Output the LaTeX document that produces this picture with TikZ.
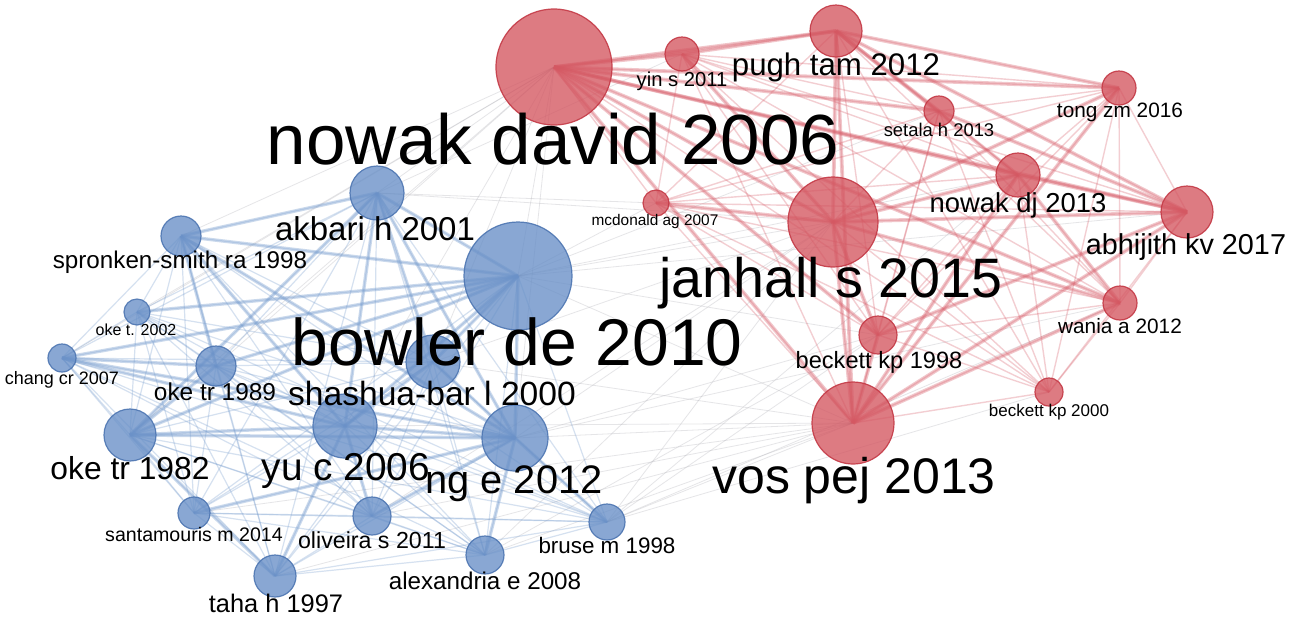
\documentclass[tikz,border=0pt]{standalone}
\usepackage{fontspec}
\setmainfont{Liberation Sans}
\usetikzlibrary{backgrounds}
\definecolor{bfill}{RGB}{104,143,199}
\definecolor{bdraw}{RGB}{78,118,178}
\definecolor{rfill}{RGB}{212,86,96}
\definecolor{rdraw}{RGB}{196,58,70}
\definecolor{bedge}{RGB}{118,156,206}
\definecolor{redge}{RGB}{216,96,108}
\definecolor{gedge}{RGB}{165,165,172}
\begin{document}
\begin{tikzpicture}[x=0.5pt,y=-0.5pt,
  bnode/.style={circle,inner sep=0,minimum size=#1*1pt,fill=bfill,fill opacity=0.78,draw=bdraw,draw opacity=0.9,line width=0.6pt},
  rnode/.style={circle,inner sep=0,minimum size=#1*1pt,fill=rfill,fill opacity=0.78,draw=rdraw,draw opacity=0.9,line width=0.6pt},
  lbl/.style={inner sep=0,anchor=base,text=black,font=\fontsize{#1pt}{#1pt}\selectfont},
  bthin/.style={draw=bedge,draw opacity=0.3,line width=0.6pt},
  bthick/.style={draw=bedge,draw opacity=0.38,line width=1.7pt},
  rthin/.style={draw=redge,draw opacity=0.3,line width=0.7pt},
  rthick/.style={draw=redge,draw opacity=0.35,line width=1.9pt},
  gthin/.style={draw=gedge,draw opacity=0.28,line width=0.4pt}]
\useasboundingbox (0,0) rectangle (1301,618);
% ---------- red cluster nodes ----------
\node[rnode=58] (nd)   at (554,67)  {};
\node[rnode=17] (yin)  at (682,54)  {};
\node[rnode=26] (pugh) at (836,31)  {};
\node[rnode=15] (set)  at (939,111) {};
\node[rnode=17] (tong) at (1119,88) {};
\node[rnode=22] (ndj)  at (1018,175) {};
\node[rnode=26] (abh)  at (1187,212) {};
\node[rnode=13] (mcd)  at (656,203) {};
\node[rnode=45] (jan)  at (833,222) {};
\node[rnode=19] (bkA)  at (878,335) {};
\node[rnode=17] (wan)  at (1120,303) {};
\node[rnode=14] (bkB)  at (1049,392) {};
\node[rnode=41] (vos)  at (853,423) {};
% ---------- blue cluster nodes ----------
\node[bnode=27] (akb)   at (377,193) {};
\node[bnode=20] (spr)   at (181,236) {};
\node[bnode=13] (okeA)  at (137,312) {};
\node[bnode=14] (chang) at (62,358)  {};
\node[bnode=20] (okeB)  at (216,366) {};
\node[bnode=54] (bow)   at (518,276) {};
\node[bnode=27] (shb)   at (433,362) {};
\node[bnode=26] (okeC)  at (130,435) {};
\node[bnode=32] (yu)    at (345,426) {};
\node[bnode=33] (ng)    at (515,438) {};
\node[bnode=16] (san)   at (194,513) {};
\node[bnode=19] (oli)   at (372,516) {};
\node[bnode=21] (taha)  at (275,576) {};
\node[bnode=19] (alex)  at (485,555) {};
\node[bnode=18] (bruse) at (607,522) {};
% ---------- edges ----------
\begin{scope}[on background layer]
\fill[white] (0,0) rectangle (1301,618);
% faint links between the clusters
\foreach \a/\b in {bow/jan,bow/vos,bow/nd,bow/mcd,bow/bkA,ng/vos,ng/jan,ng/bkA,bruse/vos,bruse/jan,bruse/bkA,bruse/bkB,
  shb/jan,shb/vos,akb/nd,akb/jan,akb/mcd,yu/vos,yu/nd,alex/vos,alex/jan,spr/nd,okeC/nd,chang/nd,oli/jan,oli/vos,
  taha/vos,bow/ndj,ng/wan,bruse/wan,bow/abh,okeB/nd,san/vos,shb/nd,alex/bkA,bruse/ndj,ng/nd,okeA/nd,akb/yin,bow/set}
  \draw[gthin] (\a.center) -- (\b.center);
% red cluster: all pairs
\foreach \a [count=\i] in {nd,yin,pugh,set,tong,ndj,abh,mcd,jan,bkA,wan,bkB,vos}{
  \foreach \b [count=\j] in {nd,yin,pugh,set,tong,ndj,abh,mcd,jan,bkA,wan,bkB,vos}{
    \ifnum\j>\i \draw[rthin] (\a.center) -- (\b.center);\fi}}
\foreach \a/\b in {nd/pugh,nd/ndj,nd/abh,nd/jan,nd/vos,nd/set,nd/tong,nd/wan,jan/vos,jan/pugh,jan/abh,jan/ndj,
  pugh/abh,pugh/ndj,pugh/tong,ndj/abh,vos/abh,vos/ndj,vos/wan,bkA/abh,jan/bkA,pugh/vos,yin/jan,pugh/set,
  ndj/wan,jan/tong,vos/tong,set/abh,jan/wan,nd/bkA,nd/yin,yin/pugh,mcd/jan,vos/bkA}
  \draw[rthick] (\a.center) -- (\b.center);
% blue cluster: all pairs
\foreach \a [count=\i] in {akb,spr,okeA,chang,okeB,bow,shb,okeC,yu,ng,san,oli,taha,alex,bruse}{
  \foreach \b [count=\j] in {akb,spr,okeA,chang,okeB,bow,shb,okeC,yu,ng,san,oli,taha,alex,bruse}{
    \ifnum\j>\i \draw[bthin] (\a.center) -- (\b.center);\fi}}
\foreach \a/\b in {bow/akb,bow/spr,bow/chang,bow/okeC,bow/yu,bow/ng,bow/shb,bow/okeB,akb/spr,akb/yu,akb/ng,
  akb/okeC,yu/ng,yu/okeC,shb/ng,ng/oli,okeC/okeB,chang/okeB,spr/okeB,yu/taha,ng/alex,ng/bruse,oli/yu,
  spr/yu,okeC/ng,shb/yu,akb/shb,okeA/bow,chang/ng,san/ng,okeC/taha,chang/yu,spr/ng}
  \draw[bthick] (\a.center) -- (\b.center);
\end{scope}
% ---------- labels ----------
\node[lbl=35.5] (tnd)   at (553,164) {nowak david 2006};
\node[lbl=10.1] (tyin)  at (682,86)  {yin s 2011};
\node[lbl=15.6] (tpugh) at (836,75)  {pugh tam 2012};
\node[lbl=9.2]  (tset)  at (939,136) {setala h 2013};
\node[lbl=10.4] (ttong) at (1120,117) {tong zm 2016};
\node[lbl=13.7] (tndj)  at (1018,212) {nowak dj 2013};
\node[lbl=14.4] (tabh)  at (1186,254) {abhijith kv 2017};
\node[lbl=7.7]  (tmcd)  at (655,225) {mcdonald ag 2007};
\node[lbl=27.8] (tjan)  at (831,297) {janhall s 2015};
\node[lbl=11.8] (tbkA)  at (879,368) {beckett kp 1998};
\node[lbl=10.4] (twan)  at (1120,333) {wania a 2012};
\node[lbl=8.5]  (tbkB)  at (1049,416) {beckett kp 2000};
\node[lbl=25]   (tvos)  at (854,493) {vos pej 2013};
\node[lbl=16.5] (takb)  at (375,240) {akbari h 2001};
\node[lbl=12.1] (tspr)  at (180,268) {spronken-smith ra 1998};
\node[lbl=8]    (tokeA) at (136,335) {oke t. 2002};
\node[lbl=9]    (tchang) at (62,384) {chang cr 2007};
\node[lbl=12.2] (tokeB) at (215,400) {oke tr 1989};
\node[lbl=33]   (tbow)  at (517,365) {bowler de 2010};
\node[lbl=16.8] (tshb)  at (432,405) {shashua-bar l 2000};
\node[lbl=15.9] (tokeC) at (130,479) {oke tr 1982};
\node[lbl=19.4] (tyu)   at (346,480) {yu c 2006};
\node[lbl=19.9] (tng)   at (514,493) {ng e 2012};
\node[lbl=9.8]  (tsan)  at (194,541) {santamouris m 2014};
\node[lbl=11.6] (toli)  at (372,548) {oliveira s 2011};
\node[lbl=12.7] (ttaha) at (276,612) {taha h 1997};
\node[lbl=12.1] (talex) at (485,589) {alexandria e 2008};
\node[lbl=11.2] (tbruse) at (607,553) {bruse m 1998};
\end{tikzpicture}
\end{document}
